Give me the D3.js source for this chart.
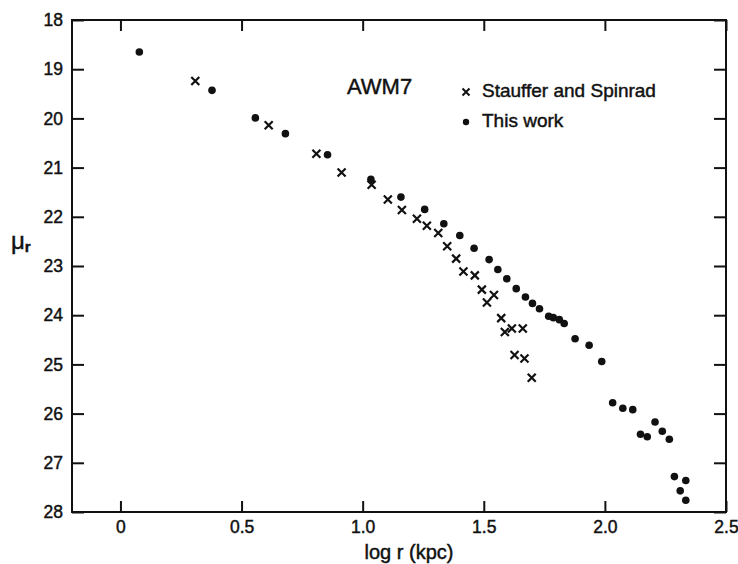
<!DOCTYPE html>
<html>
<head>
<meta charset="utf-8">
<script src="https://cdn.jsdelivr.net/npm/d3@7"></script>
<style>
  html, body { margin: 0; padding: 0; background: #fff; }
  svg { display: block; }
  text { font-family: "Liberation Sans", Arial, sans-serif; fill: #111; stroke: #111; stroke-width: 0.45px; }
</style>
</head>
<body>
<svg id="chart" width="738" height="564"></svg>
<script>
// Surface brightness profile of AWM7: mu_r against log radius
const staufferLogR = [0.309, 0.612, 0.809, 0.913, 1.037, 1.104, 1.162, 1.224, 1.265, 1.312,
  1.349, 1.386, 1.416, 1.463, 1.492, 1.542, 1.513, 1.572, 1.587, 1.616, 1.661, 1.627, 1.668, 1.698];
const staufferMu = [19.24, 20.14, 20.72, 21.10, 21.35, 21.65, 21.86, 22.04, 22.18, 22.33,
  22.60, 22.85, 23.11, 23.19, 23.48, 23.59, 23.74, 24.06, 24.34, 24.27, 24.27, 24.81, 24.88, 25.27];

const thisWorkLogR = [0.078, 0.378, 0.557, 0.681, 0.855, 1.034, 1.158, 1.256, 1.335, 1.401,
  1.460, 1.522, 1.558, 1.595, 1.634, 1.672, 1.701, 1.730, 1.768, 1.787, 1.812, 1.832, 1.877,
  1.935, 1.987, 2.032, 2.074, 2.115, 2.147, 2.175, 2.207, 2.237, 2.266, 2.287, 2.334, 2.311, 2.334];
const thisWorkMu = [18.65, 19.43, 19.99, 20.31, 20.74, 21.24, 21.60, 21.85, 22.14, 22.38,
  22.64, 22.87, 23.07, 23.26, 23.46, 23.63, 23.76, 23.87, 24.02, 24.05, 24.09, 24.17, 24.48,
  24.61, 24.94, 25.78, 25.89, 25.92, 26.42, 26.47, 26.17, 26.36, 26.52, 27.28, 27.36, 27.57, 27.76];

const xTickValues = [0, 0.5, 1.0, 1.5, 2.0, 2.5];
const xTickLabels = ["0", "0.5", "1.0", "1.5", "2.0", "2.5"];
const yTickValues = [18, 19, 20, 21, 22, 23, 24, 25, 26, 27, 28];

const svg = d3.select("#chart");
const plotLeft = 72, plotRight = 726, plotTop = 20, plotBottom = 512;

const x = d3.scaleLinear().domain([-0.2, 2.5]).range([plotLeft, plotRight]);
const y = d3.scaleLinear().domain([18, 28]).range([plotTop, plotBottom]);

const ink = "#111";

// Frame
svg.append("rect")
  .attr("x", plotLeft).attr("y", plotTop)
  .attr("width", plotRight - plotLeft).attr("height", plotBottom - plotTop)
  .attr("fill", "none").attr("stroke", ink).attr("stroke-width", 2);

// Bottom axis with inward ticks and labels
const gx = svg.append("g").attr("transform", `translate(0,${plotBottom})`)
  .call(d3.axisBottom(x).tickValues(xTickValues)
    .tickFormat((d, i) => xTickLabels[i]).tickSizeInner(-11).tickSizeOuter(0).tickPadding(9));
// Top axis, ticks only
const gxt = svg.append("g").attr("transform", `translate(0,${plotTop})`)
  .call(d3.axisTop(x).tickValues(xTickValues).tickFormat("").tickSizeInner(-11).tickSizeOuter(0));
// Left axis with labels
const gy = svg.append("g").attr("transform", `translate(${plotLeft},0)`)
  .call(d3.axisLeft(y).tickValues(yTickValues).tickFormat(d3.format("d"))
    .tickSizeInner(-12).tickSizeOuter(0).tickPadding(9));
// Right axis, ticks only
const gyr = svg.append("g").attr("transform", `translate(${plotRight},0)`)
  .call(d3.axisRight(y).tickValues(yTickValues).tickFormat("").tickSizeInner(-12).tickSizeOuter(0));

[gx, gxt, gy, gyr].forEach(g => {
  g.select(".domain").remove();
  g.selectAll(".tick line").attr("stroke", ink).attr("stroke-width", 2);
  g.selectAll(".tick text").attr("fill", ink).style("font-size", "17.5px")
    .style("font-family", "'Liberation Sans', Arial, sans-serif");
});

// Axis titles
svg.append("text").attr("x", 409).attr("y", 559).attr("text-anchor", "middle")
  .style("font-size", "20px").text("log r (kpc)");
const yt = svg.append("text").attr("x", 11).attr("y", 249).style("font-size", "24px");
yt.append("tspan").text("μ");
yt.append("tspan").attr("dy", 3).style("font-size", "15px").style("font-weight", "bold").text("r");

// Cross marker path generator
const crossHalf = 4;
const crossPath = (cx, cy, h) =>
  `M${cx - h},${cy - h}L${cx + h},${cy + h}M${cx - h},${cy + h}L${cx + h},${cy - h}`;

// Stauffer and Spinrad points
svg.append("g").selectAll("path")
  .data(staufferLogR.map((r, i) => [r, staufferMu[i]]))
  .join("path")
  .attr("d", d => crossPath(x(d[0]), y(d[1]), crossHalf))
  .attr("stroke", ink).attr("stroke-width", 2.2).attr("fill", "none");

// This work points
svg.append("g").selectAll("circle")
  .data(thisWorkLogR.map((r, i) => [r, thisWorkMu[i]]))
  .join("circle")
  .attr("cx", d => x(d[0])).attr("cy", d => y(d[1])).attr("r", 3.8)
  .attr("fill", ink);

// Label and legend
svg.append("text").attr("x", 347).attr("y", 94).style("font-size", "22px").text("AWM7");

svg.append("path").attr("d", crossPath(466, 92, 3.5))
  .attr("stroke", ink).attr("stroke-width", 2).attr("fill", "none");
svg.append("text").attr("x", 482).attr("y", 97).style("font-size", "19px").text("Stauffer and Spinrad");

svg.append("circle").attr("cx", 466).attr("cy", 122).attr("r", 3.2).attr("fill", ink);
svg.append("text").attr("x", 482).attr("y", 127).style("font-size", "19px").text("This work");
</script>
</body>
</html>
